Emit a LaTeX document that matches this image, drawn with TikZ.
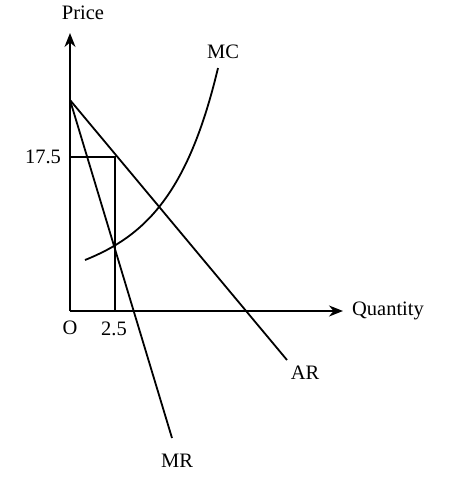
\documentclass[tikz,border=0pt]{standalone}
\usepackage{fontspec}
\setmainfont{Liberation Serif}
\usetikzlibrary{arrows.meta}
\begin{document}
\begin{tikzpicture}[x=1pt,y=-1pt,
  ln/.style={line width=1.8pt},
  axis/.style={line width=1.8pt,-{Stealth[length=14pt,width=11pt]}},
  lbl/.style={font=\fontsize{20.5}{24}\selectfont,inner sep=0pt}]
\useasboundingbox (0,0) rectangle (450,483);
% points
\coordinate (O) at (70,311);
\coordinate (ytop) at (70,33);
\coordinate (xend) at (343,311);
\coordinate (A) at (70,100);
\coordinate (arend) at (287,360);
\coordinate (mrend) at (172,438);
\coordinate (p175) at (70,157);
\coordinate (c) at (115,157);
\coordinate (q25) at (115,311);
\coordinate (mcs) at (85,260);
\coordinate (mce) at (218,68);
% axes
\draw[axis] (O) -- (ytop);
\draw[axis] (O) -- (xend);
% demand curves
\draw[ln] (A) -- (arend);
\draw[ln] (A) -- (mrend);
% rectangle
\draw[ln] (p175) -- (c) -- (q25);
% MC
\draw[ln] (mcs) .. controls (145,236) and (188,194) .. (mce);
% labels
\node[lbl] (price) at (83,13) {Price};
\node[lbl] (qty) at (388,311) {Quantity};
\node[lbl] (o) at (70,328) {O};
\node[lbl] (t25) at (114,329) {2.5};
\node[lbl] (t175) at (43,157) {17.5};
\node[lbl] (mc) at (223,52) {MC};
\node[lbl] (ar) at (305,373) {AR};
\node[lbl] (mr) at (177,461) {MR};
\end{tikzpicture}
\end{document}
